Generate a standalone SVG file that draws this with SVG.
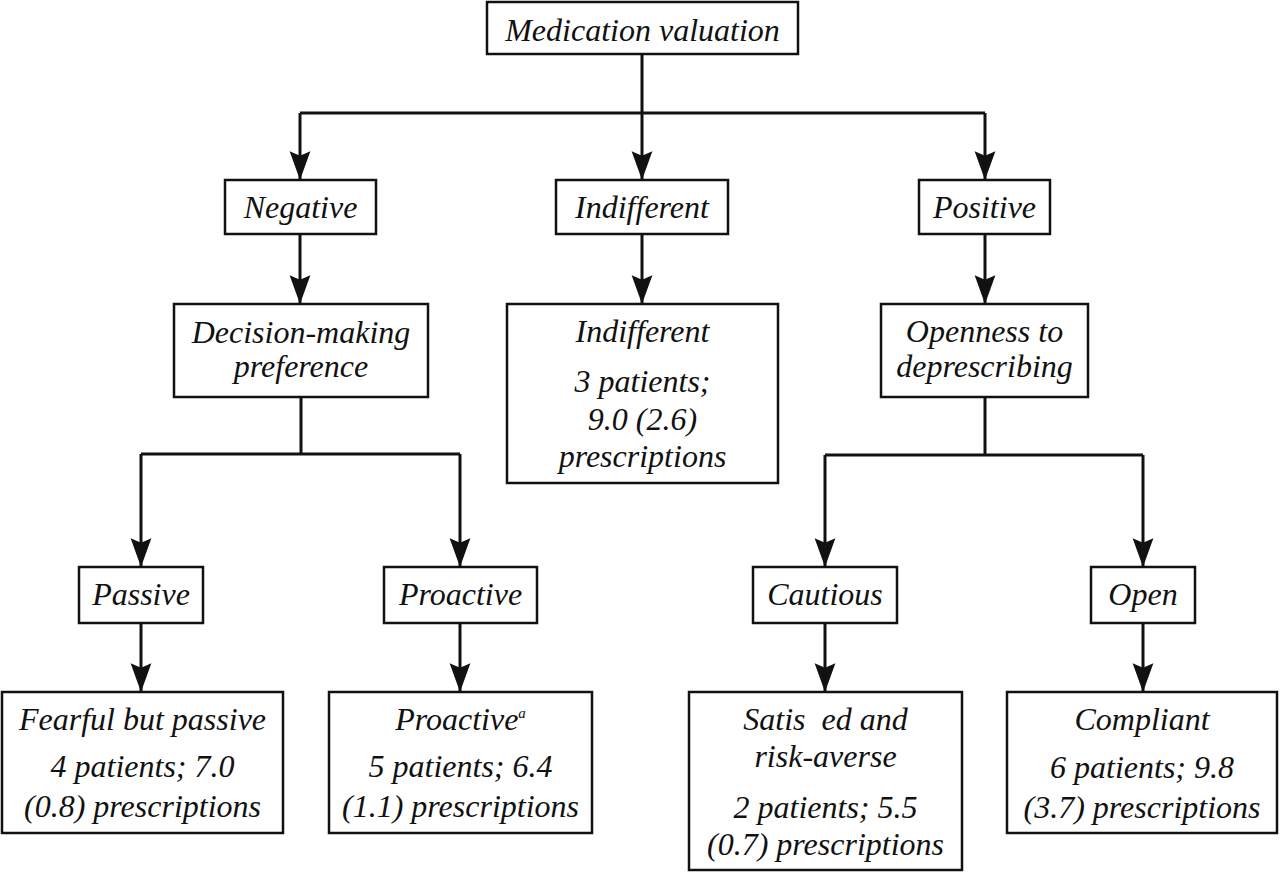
<svg xmlns="http://www.w3.org/2000/svg" width="1280" height="872" viewBox="0 0 1280 872">
<style>
.box{fill:#fff;stroke:#111;stroke-width:2.5}
.t{font-family:"Liberation Serif","Times New Roman",serif;font-style:italic;font-size:32px;fill:#111;text-anchor:middle}
.c{fill:none;stroke:#111;stroke-width:3}
</style>
<defs>
<marker id="ah" markerUnits="userSpaceOnUse" markerWidth="30" markerHeight="24" viewBox="0 -10 26 20" refX="25" refY="0" orient="auto">
<path d="M0,-9 L25,0 L0,9 L4,0 Z" fill="#111"/>
</marker>
</defs>
<rect width="1280" height="872" fill="#fff"/>
<g id="connectors">
<path class="c" d="M642,54 V113 M300,113 H985"/>
<path class="c" d="M300,113 V180" marker-end="url(#ah)"/>
<path class="c" d="M642,113 V180" marker-end="url(#ah)"/>
<path class="c" d="M985,113 V180" marker-end="url(#ah)"/>
<path class="c" d="M300,234 V304" marker-end="url(#ah)"/>
<path class="c" d="M642,234 V304" marker-end="url(#ah)"/>
<path class="c" d="M985,234 V304" marker-end="url(#ah)"/>
<path class="c" d="M301,397 V454 M141,454 H460"/>
<path class="c" d="M141,454 V567" marker-end="url(#ah)"/>
<path class="c" d="M460,454 V567" marker-end="url(#ah)"/>
<path class="c" d="M985,397 V455 M825,455 H1143"/>
<path class="c" d="M825,455 V567" marker-end="url(#ah)"/>
<path class="c" d="M1143,455 V567" marker-end="url(#ah)"/>
<path class="c" d="M141,623 V692" marker-end="url(#ah)"/>
<path class="c" d="M460,623 V692" marker-end="url(#ah)"/>
<path class="c" d="M825,623 V692" marker-end="url(#ah)"/>
<path class="c" d="M1143,623 V692" marker-end="url(#ah)"/>
</g>
<g id="medication-valuation"><rect class="box" x="487" y="2" width="311" height="52"/><text class="t" x="642.5" y="41">Medication valuation</text></g>
<g id="negative"><rect class="box" x="225" y="180" width="151" height="54"/><text class="t" x="300.5" y="218">Negative</text></g>
<g id="indifferent"><rect class="box" x="556" y="180" width="172" height="54"/><text class="t" x="642" y="218">Indifferent</text></g>
<g id="positive"><rect class="box" x="919" y="180" width="131" height="54"/><text class="t" x="984.5" y="218">Positive</text></g>
<g id="decision-making"><rect class="box" x="174" y="304" width="254" height="93"/><text class="t" x="301" y="343">Decision-making</text><text class="t" x="301" y="377">preference</text></g>
<g id="indifferent-result"><rect class="box" x="507" y="304" width="271" height="179"/><text class="t" x="642.5" y="342">Indifferent</text><text class="t" x="642.5" y="392">3 patients;</text><text class="t" x="642.5" y="430">9.0 (2.6)</text><text class="t" x="642.5" y="467">prescriptions</text></g>
<g id="openness"><rect class="box" x="881" y="304" width="207" height="93"/><text class="t" x="984.5" y="342">Openness to</text><text class="t" x="984.5" y="377">deprescribing</text></g>
<g id="passive"><rect class="box" x="79" y="567" width="124" height="56"/><text class="t" x="141" y="605">Passive</text></g>
<g id="proactive"><rect class="box" x="384" y="567" width="153" height="56"/><text class="t" x="460.5" y="605">Proactive</text></g>
<g id="cautious"><rect class="box" x="753" y="567" width="144" height="56"/><text class="t" x="825" y="605">Cautious</text></g>
<g id="open"><rect class="box" x="1091" y="567" width="104" height="56"/><text class="t" x="1143" y="605">Open</text></g>
<g id="fearful"><rect class="box" x="2" y="692" width="281" height="141"/><text class="t" x="142.5" y="730">Fearful but passive</text><text class="t" x="142.5" y="777">4 patients; 7.0</text><text class="t" x="142.5" y="817">(0.8) prescriptions</text></g>
<g id="proactive-result"><rect class="box" x="329" y="692" width="263" height="141"/><text class="t" x="460.5" y="730">Proactive<tspan font-size="15" dy="-12">a</tspan></text><text class="t" x="460.5" y="777">5 patients; 6.4</text><text class="t" x="460.5" y="817">(1.1) prescriptions</text></g>
<g id="satisfied"><rect class="box" x="689" y="692" width="273" height="178"/><text class="t" x="825.5" y="730" xml:space="preserve">Satis  ed and</text><text class="t" x="825.5" y="767">risk-averse</text><text class="t" x="825.5" y="818">2 patients; 5.5</text><text class="t" x="825.5" y="855">(0.7) prescriptions</text></g>
<g id="compliant"><rect class="box" x="1007" y="692" width="270" height="141"/><text class="t" x="1142" y="730">Compliant</text><text class="t" x="1142" y="778">6 patients; 9.8</text><text class="t" x="1142" y="818">(3.7) prescriptions</text></g>
</svg>
